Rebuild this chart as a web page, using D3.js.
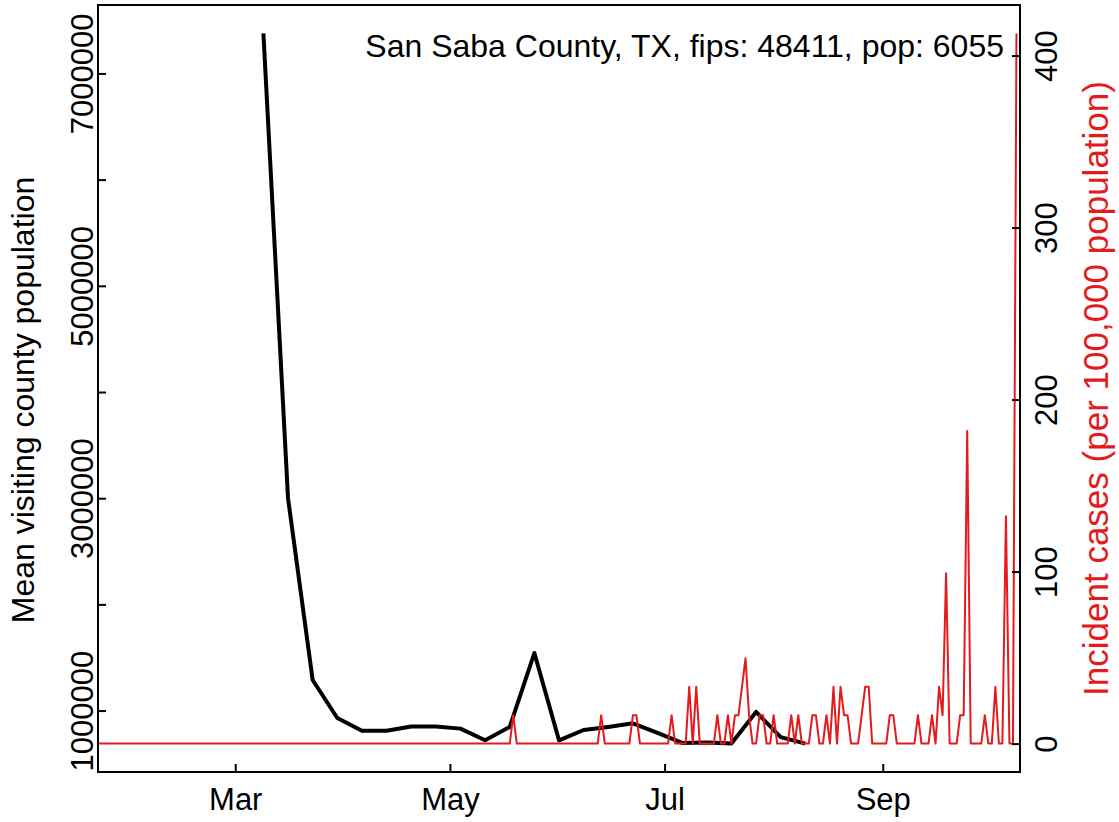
<!DOCTYPE html>
<html lang="en">
<head>
<meta charset="utf-8">
<title>San Saba County, TX</title>
<script src="https://cdn.jsdelivr.net/npm/d3@7"></script>
<style>
  body { margin: 0; background: #fff; }
  svg text { font-family: "Liberation Sans", Arial, sans-serif; }
</style>
</head>
<body>
<svg id="chart"></svg>
<script>
// daily reported cases, first value is 2020-01-22
var caseStart = "2020-01-22";
var population = 6055;
var dailyCases = [
  0,0,0,0,0,0,0,0,0,0,  0,0,0,0,0,0,0,0,0,0,
  0,0,0,0,0,0,0,0,0,0,  0,0,0,0,0,0,0,0,0,0,
  0,0,0,0,0,0,0,0,0,0,  0,0,0,0,0,0,0,0,0,0,
  0,0,0,0,0,0,0,0,0,0,  0,0,0,0,0,0,0,0,0,0,
  0,0,0,0,0,0,0,0,0,0,  0,0,0,0,0,0,0,0,0,0,
  0,0,0,0,0,0,0,0,0,0,  0,0,0,0,0,0,0,0,1,0,   // 100-119
  0,0,0,0,0,0,0,0,0,0,  0,0,0,0,0,0,0,0,0,0,
  0,0,0,1,0,0,0,0,0,0,  0,0,1,1,0,0,0,0,0,0,   // 140-159
  0,0,0,1,0,0,0,0,2,0,  2,0,0,0,0,0,1,0,0,1,   // 160-179
  0,1,1,2,3,1,0,0,1,1,  0,0,1,0,0,0,0,1,0,1,   // 180-199
  0,0,0,1,1,0,0,1,0,2,  0,2,1,1,0,0,0,1,2,2,   // 200-219
  0,0,0,0,0,1,1,0,0,0,  0,0,0,1,0,0,0,1,0,2,   // 220-239
  1,6,0,0,0,1,1,11,0,0, 0,0,1,0,0,2,0,0,8,0,   // 240-259
  0,25
];

// weekly mean visiting county population, first value is 2020-03-09
var visitStart = "2020-03-09";
var visitors = [7377000, 3000000, 1288000, 930000, 810000, 810000, 850000, 850000,
                830000, 720000, 846000, 1542000, 720000, 817000, 846000, 880000,
                790000, 695000, 700000, 689000, 987000, 750000, 689000];

var xLimits = ["2020-01-22", "2020-10-10"];
var monthTicks = ["2020-03-01", "2020-05-01", "2020-07-01", "2020-09-01"];
var monthLabels = ["Mar", "May", "Jul", "Sep"];
var visitTicks = [1000000, 2000000, 3000000, 4000000, 5000000, 6000000, 7000000];
var caseTicks = [0, 100, 200, 300, 400];
var title = "San Saba County, TX, fips: 48411, pop: 6055";

var W = 1119, H = 822;
var plotL = 98, plotR = 1020, plotT = 5, plotB = 772;
var fs = 31, titleFs = 32;
var red = "#e41a1c";

var parse = d3.timeParse("%Y-%m-%d");

var cases = dailyCases.map(function(c, i){
  return {date: d3.timeDay.offset(parse(caseStart), i), value: c * 100000 / population};
});
var visits = visitors.map(function(v, i){
  return {date: d3.timeDay.offset(parse(visitStart), i * 7), value: v};
});

// R style: data range plus 4% each side
function padded(vals){
  var e = d3.extent(vals);
  var p = (e[1] - e[0]) * 0.04;
  return [e[0] - p, e[1] + p];
}

var x = d3.scaleTime().domain(xLimits.map(parse)).range([plotL, plotR]);
var yL = d3.scaleLinear().domain(padded(visitors)).range([plotB, plotT]);
var yR = d3.scaleLinear().domain(padded(cases.map(function(d){ return d.value; }))).range([plotB, plotT]);

var svg = d3.select("#chart").attr("width", W).attr("height", H);

svg.append("rect").attr("width", W).attr("height", H).attr("fill", "#fff");

// black line
svg.append("path")
   .datum(visits)
   .attr("fill", "none")
   .attr("stroke", "#000")
   .attr("stroke-width", 4)
   .attr("stroke-linejoin", "round")
   .attr("d", d3.line().x(function(d){ return x(d.date); }).y(function(d){ return yL(d.value); }));

// red line
svg.append("path")
   .datum(cases)
   .attr("fill", "none")
   .attr("stroke", red)
   .attr("stroke-width", 2)
   .attr("stroke-linejoin", "round")
   .attr("d", d3.line().x(function(d){ return x(d.date); }).y(function(d){ return yR(d.value); }));

// axes, ticks point inward
var gx = svg.append("g")
   .attr("transform", "translate(0," + plotB + ")")
   .call(d3.axisBottom(x).tickValues(monthTicks.map(parse)).tickSize(-8)
           .tickFormat(function(d, i){ return monthLabels[i]; }));
gx.selectAll("text").attr("y", 38).attr("dy", null);

var gl = svg.append("g")
   .attr("transform", "translate(" + plotL + ",0)")
   .call(d3.axisLeft(yL).tickValues(visitTicks).tickSize(-8)
           .tickFormat(function(d){ return (d / 1000000) % 2 === 1 ? d3.format("d")(d) : ""; }));
gl.selectAll("text").attr("x", null).attr("dy", null)
  .attr("text-anchor", "middle").attr("transform", "translate(-5,0) rotate(-90)");

var gr = svg.append("g")
   .attr("transform", "translate(" + plotR + ",0)")
   .call(d3.axisRight(yR).tickValues(caseTicks).tickSize(-8).tickFormat(d3.format("d")));
gr.selectAll("text").attr("x", null).attr("dy", null)
  .attr("text-anchor", "middle").attr("transform", "translate(37,0) rotate(-90)");

[gx, gl, gr].forEach(function(g){
  g.select(".domain").remove();
  g.attr("font-size", fs).attr("font-family", null);
  g.selectAll("line").attr("stroke", "#000").attr("stroke-width", 2);
  g.selectAll("text").attr("fill", "#000");
});

// frame
svg.append("rect")
   .attr("x", plotL).attr("y", plotT)
   .attr("width", plotR - plotL).attr("height", plotB - plotT)
   .attr("fill", "none").attr("stroke", "#000").attr("stroke-width", 2);

// titles
svg.append("text")
   .attr("transform", "translate(34,400) rotate(-90)")
   .attr("text-anchor", "middle").attr("font-size", 32)
   .text("Mean visiting county population");

svg.append("text")
   .attr("transform", "translate(1108," + (plotT + plotB) / 2 + ") rotate(-90)")
   .attr("text-anchor", "middle").attr("font-size", 35).attr("fill", red)
   .text("Incident cases (per 100,000 population)");

svg.append("text")
   .attr("x", 1004).attr("y", 57)
   .attr("text-anchor", "end").attr("font-size", titleFs)
   .text(title);
</script>
</body>
</html>
